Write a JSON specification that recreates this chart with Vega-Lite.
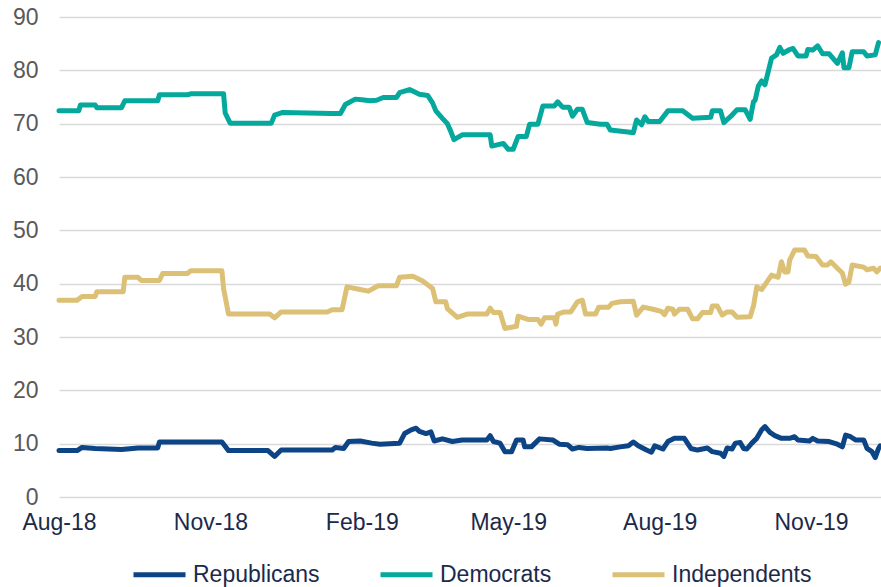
{
  "$schema": "https://vega.github.io/schema/vega-lite/v6.json",
  "width": 822,
  "height": 480,
  "autosize": {"type": "none"},
  "padding": {"left": 59, "top": 17, "right": 0, "bottom": 90},
  "config": {"view": {"stroke": null}, "font": "Liberation Sans"},
  "datasets": {
    "Democrats": [
      {"date":"2018-08-01","value":72.4},{"date":"2018-08-13","value":72.4},{"date":"2018-08-14","value":73.5},{"date":"2018-08-23","value":73.5},{"date":"2018-08-24","value":73.0},{"date":"2018-09-08","value":73.0},{"date":"2018-09-10","value":74.3},{"date":"2018-09-30","value":74.3},{"date":"2018-10-01","value":75.4},{"date":"2018-10-18","value":75.4},{"date":"2018-10-20","value":75.6},{"date":"2018-11-09","value":75.6},{"date":"2018-11-10","value":72.0},{"date":"2018-11-13","value":70.1},{"date":"2018-12-08","value":70.1},{"date":"2018-12-10","value":71.6},{"date":"2018-12-15","value":72.1},{"date":"2019-01-14","value":71.9},{"date":"2019-01-19","value":71.9},{"date":"2019-01-22","value":73.6},{"date":"2019-01-28","value":74.6},{"date":"2019-02-01","value":74.5},{"date":"2019-02-06","value":74.3},{"date":"2019-02-10","value":74.4},{"date":"2019-02-14","value":74.9},{"date":"2019-02-22","value":74.9},{"date":"2019-02-24","value":75.8},{"date":"2019-03-02","value":76.4},{"date":"2019-03-08","value":75.5},{"date":"2019-03-13","value":75.3},{"date":"2019-03-16","value":73.9},{"date":"2019-03-18","value":72.4},{"date":"2019-03-22","value":71.0},{"date":"2019-03-25","value":70.0},{"date":"2019-03-27","value":68.6},{"date":"2019-03-29","value":67.0},{"date":"2019-04-03","value":67.9},{"date":"2019-04-20","value":67.9},{"date":"2019-04-21","value":65.8},{"date":"2019-04-28","value":66.3},{"date":"2019-05-01","value":65.2},{"date":"2019-05-04","value":65.2},{"date":"2019-05-07","value":67.6},{"date":"2019-05-12","value":67.6},{"date":"2019-05-14","value":69.9},{"date":"2019-05-19","value":69.9},{"date":"2019-05-22","value":73.3},{"date":"2019-05-29","value":73.3},{"date":"2019-05-31","value":74.1},{"date":"2019-06-03","value":73.1},{"date":"2019-06-07","value":73.1},{"date":"2019-06-09","value":71.4},{"date":"2019-06-12","value":72.7},{"date":"2019-06-15","value":72.7},{"date":"2019-06-18","value":70.2},{"date":"2019-06-26","value":69.9},{"date":"2019-06-30","value":69.9},{"date":"2019-07-02","value":68.8},{"date":"2019-07-14","value":68.4},{"date":"2019-07-16","value":68.3},{"date":"2019-07-18","value":70.7},{"date":"2019-07-21","value":69.8},{"date":"2019-07-23","value":71.3},{"date":"2019-07-25","value":70.4},{"date":"2019-08-01","value":70.4},{"date":"2019-08-06","value":72.4},{"date":"2019-08-15","value":72.4},{"date":"2019-08-21","value":71.0},{"date":"2019-09-01","value":71.2},{"date":"2019-09-02","value":72.4},{"date":"2019-09-07","value":72.4},{"date":"2019-09-09","value":70.2},{"date":"2019-09-13","value":71.3},{"date":"2019-09-17","value":72.6},{"date":"2019-09-22","value":72.6},{"date":"2019-09-25","value":70.8},{"date":"2019-09-27","value":74.1},{"date":"2019-09-28","value":74.4},{"date":"2019-09-30","value":77.1},{"date":"2019-10-02","value":78.0},{"date":"2019-10-04","value":77.3},{"date":"2019-10-08","value":82.3},{"date":"2019-10-11","value":82.9},{"date":"2019-10-13","value":84.3},{"date":"2019-10-15","value":83.2},{"date":"2019-10-19","value":83.9},{"date":"2019-10-21","value":84.1},{"date":"2019-10-24","value":82.7},{"date":"2019-10-29","value":82.7},{"date":"2019-10-30","value":83.9},{"date":"2019-11-02","value":83.8},{"date":"2019-11-05","value":84.6},{"date":"2019-11-08","value":83.1},{"date":"2019-11-12","value":83.1},{"date":"2019-11-17","value":81.3},{"date":"2019-11-20","value":83.3},{"date":"2019-11-21","value":80.5},{"date":"2019-11-24","value":80.5},{"date":"2019-11-26","value":83.5},{"date":"2019-12-03","value":83.5},{"date":"2019-12-05","value":82.7},{"date":"2019-12-10","value":82.9},{"date":"2019-12-12","value":85.2}
    ],
    "Independents": [
      {"date":"2018-08-01","value":36.9},{"date":"2018-08-12","value":36.9},{"date":"2018-08-15","value":37.6},{"date":"2018-08-23","value":37.6},{"date":"2018-08-24","value":38.5},{"date":"2018-09-09","value":38.5},{"date":"2018-09-10","value":41.2},{"date":"2018-09-18","value":41.2},{"date":"2018-09-20","value":40.6},{"date":"2018-10-01","value":40.6},{"date":"2018-10-03","value":41.9},{"date":"2018-10-18","value":41.9},{"date":"2018-10-20","value":42.4},{"date":"2018-11-08","value":42.4},{"date":"2018-11-09","value":39.1},{"date":"2018-11-12","value":34.3},{"date":"2018-12-07","value":34.3},{"date":"2018-12-10","value":33.6},{"date":"2018-12-14","value":34.7},{"date":"2019-01-11","value":34.7},{"date":"2019-01-14","value":35.1},{"date":"2019-01-20","value":35.1},{"date":"2019-01-23","value":39.4},{"date":"2019-01-31","value":38.9},{"date":"2019-02-05","value":38.6},{"date":"2019-02-11","value":39.6},{"date":"2019-02-22","value":39.6},{"date":"2019-02-24","value":41.2},{"date":"2019-03-04","value":41.4},{"date":"2019-03-10","value":40.5},{"date":"2019-03-16","value":39.1},{"date":"2019-03-18","value":36.6},{"date":"2019-03-24","value":36.6},{"date":"2019-03-25","value":35.3},{"date":"2019-03-31","value":33.7},{"date":"2019-04-06","value":34.3},{"date":"2019-04-18","value":34.3},{"date":"2019-04-20","value":35.4},{"date":"2019-04-22","value":34.6},{"date":"2019-04-26","value":34.6},{"date":"2019-04-29","value":31.6},{"date":"2019-05-06","value":32.0},{"date":"2019-05-07","value":33.9},{"date":"2019-05-13","value":33.3},{"date":"2019-05-19","value":33.3},{"date":"2019-05-21","value":32.4},{"date":"2019-05-23","value":33.6},{"date":"2019-05-29","value":33.6},{"date":"2019-05-30","value":32.4},{"date":"2019-05-31","value":34.3},{"date":"2019-06-04","value":34.7},{"date":"2019-06-08","value":34.7},{"date":"2019-06-12","value":36.6},{"date":"2019-06-15","value":36.9},{"date":"2019-06-17","value":34.3},{"date":"2019-06-23","value":34.3},{"date":"2019-06-25","value":35.6},{"date":"2019-07-01","value":35.6},{"date":"2019-07-03","value":36.3},{"date":"2019-07-08","value":36.6},{"date":"2019-07-16","value":36.7},{"date":"2019-07-18","value":34.1},{"date":"2019-07-22","value":35.6},{"date":"2019-07-28","value":35.2},{"date":"2019-08-02","value":34.8},{"date":"2019-08-04","value":34.2},{"date":"2019-08-06","value":35.4},{"date":"2019-08-09","value":35.2},{"date":"2019-08-10","value":34.3},{"date":"2019-08-13","value":35.2},{"date":"2019-08-18","value":35.2},{"date":"2019-08-21","value":33.4},{"date":"2019-08-24","value":33.4},{"date":"2019-08-27","value":34.6},{"date":"2019-09-01","value":34.6},{"date":"2019-09-02","value":35.8},{"date":"2019-09-05","value":35.8},{"date":"2019-09-08","value":34.1},{"date":"2019-09-11","value":34.7},{"date":"2019-09-14","value":34.7},{"date":"2019-09-17","value":33.7},{"date":"2019-09-25","value":33.8},{"date":"2019-09-27","value":35.8},{"date":"2019-09-29","value":39.4},{"date":"2019-10-02","value":38.9},{"date":"2019-10-06","value":40.7},{"date":"2019-10-08","value":41.6},{"date":"2019-10-12","value":41.2},{"date":"2019-10-14","value":44.1},{"date":"2019-10-16","value":42.2},{"date":"2019-10-18","value":42.2},{"date":"2019-10-19","value":44.4},{"date":"2019-10-22","value":46.3},{"date":"2019-10-28","value":46.3},{"date":"2019-10-30","value":45.2},{"date":"2019-11-04","value":45.1},{"date":"2019-11-08","value":43.5},{"date":"2019-11-11","value":43.5},{"date":"2019-11-13","value":44.1},{"date":"2019-11-17","value":42.9},{"date":"2019-11-20","value":42.0},{"date":"2019-11-22","value":39.9},{"date":"2019-11-24","value":40.3},{"date":"2019-11-26","value":43.5},{"date":"2019-12-03","value":43.1},{"date":"2019-12-05","value":42.6},{"date":"2019-12-09","value":42.9},{"date":"2019-12-11","value":42.2},{"date":"2019-12-13","value":42.9}
    ],
    "Republicans": [
      {"date":"2018-08-01","value":8.7},{"date":"2018-08-12","value":8.7},{"date":"2018-08-15","value":9.3},{"date":"2018-08-23","value":9.1},{"date":"2018-09-08","value":8.9},{"date":"2018-09-18","value":9.2},{"date":"2018-09-30","value":9.2},{"date":"2018-10-01","value":10.3},{"date":"2018-11-08","value":10.3},{"date":"2018-11-12","value":8.7},{"date":"2018-12-06","value":8.7},{"date":"2018-12-10","value":7.6},{"date":"2018-12-14","value":8.8},{"date":"2019-01-14","value":8.8},{"date":"2019-01-16","value":9.3},{"date":"2019-01-21","value":9.1},{"date":"2019-01-24","value":10.4},{"date":"2019-01-31","value":10.5},{"date":"2019-02-07","value":10.1},{"date":"2019-02-12","value":9.9},{"date":"2019-02-24","value":10.1},{"date":"2019-02-27","value":11.9},{"date":"2019-03-03","value":12.6},{"date":"2019-03-06","value":12.9},{"date":"2019-03-08","value":12.3},{"date":"2019-03-12","value":11.9},{"date":"2019-03-15","value":12.2},{"date":"2019-03-17","value":10.5},{"date":"2019-03-22","value":10.9},{"date":"2019-03-28","value":10.4},{"date":"2019-04-03","value":10.7},{"date":"2019-04-18","value":10.7},{"date":"2019-04-20","value":11.5},{"date":"2019-04-22","value":10.4},{"date":"2019-04-26","value":10.1},{"date":"2019-04-29","value":8.5},{"date":"2019-05-03","value":8.5},{"date":"2019-05-06","value":10.7},{"date":"2019-05-10","value":10.7},{"date":"2019-05-11","value":9.4},{"date":"2019-05-15","value":9.4},{"date":"2019-05-20","value":10.9},{"date":"2019-05-28","value":10.7},{"date":"2019-06-01","value":9.9},{"date":"2019-06-06","value":9.8},{"date":"2019-06-09","value":9.0},{"date":"2019-06-13","value":9.3},{"date":"2019-06-18","value":9.1},{"date":"2019-06-30","value":9.2},{"date":"2019-07-02","value":9.1},{"date":"2019-07-08","value":9.4},{"date":"2019-07-13","value":9.6},{"date":"2019-07-16","value":10.3},{"date":"2019-07-19","value":9.6},{"date":"2019-07-24","value":8.8},{"date":"2019-07-27","value":8.4},{"date":"2019-07-29","value":9.6},{"date":"2019-08-03","value":9.0},{"date":"2019-08-06","value":10.4},{"date":"2019-08-10","value":11.0},{"date":"2019-08-16","value":11.0},{"date":"2019-08-20","value":9.1},{"date":"2019-08-24","value":8.8},{"date":"2019-08-30","value":9.2},{"date":"2019-09-02","value":8.5},{"date":"2019-09-07","value":8.2},{"date":"2019-09-09","value":7.6},{"date":"2019-09-11","value":9.2},{"date":"2019-09-14","value":9.0},{"date":"2019-09-16","value":10.1},{"date":"2019-09-19","value":10.2},{"date":"2019-09-21","value":9.1},{"date":"2019-09-23","value":9.0},{"date":"2019-09-26","value":10.1},{"date":"2019-09-29","value":11.0},{"date":"2019-10-02","value":12.6},{"date":"2019-10-04","value":13.2},{"date":"2019-10-07","value":12.1},{"date":"2019-10-10","value":11.5},{"date":"2019-10-14","value":11.0},{"date":"2019-10-19","value":11.0},{"date":"2019-10-22","value":11.3},{"date":"2019-10-24","value":10.7},{"date":"2019-10-31","value":10.5},{"date":"2019-11-02","value":11.0},{"date":"2019-11-05","value":10.5},{"date":"2019-11-12","value":10.4},{"date":"2019-11-17","value":9.9},{"date":"2019-11-20","value":9.4},{"date":"2019-11-22","value":11.6},{"date":"2019-11-25","value":11.3},{"date":"2019-11-28","value":10.7},{"date":"2019-12-03","value":10.7},{"date":"2019-12-05","value":9.1},{"date":"2019-12-08","value":8.5},{"date":"2019-12-10","value":7.4},{"date":"2019-12-12","value":9.1},{"date":"2019-12-13","value":9.6}
    ]
  },
  "layer": [
    {"data": {"name": "Republicans"}, "transform": [{"calculate": "'Republicans'", "as": "party"}], "mark": {"type": "line", "strokeWidth": 5, "strokeJoin": "round", "strokeCap": "round"}, "encoding": {}},
    {"data": {"name": "Democrats"}, "transform": [{"calculate": "'Democrats'", "as": "party"}], "mark": {"type": "line", "strokeWidth": 5, "strokeJoin": "round", "strokeCap": "round"}, "encoding": {}},
    {"data": {"name": "Independents"}, "transform": [{"calculate": "'Independents'", "as": "party"}], "mark": {"type": "line", "strokeWidth": 5, "strokeJoin": "round", "strokeCap": "round"}, "encoding": {}}
  ],
  "encoding": {
    "x": {
      "field": "date", "type": "temporal",
      "scale": {"type": "utc", "domain": [{"year": 2018, "month": 8, "date": 1, "utc": true}, {"year": 2019, "month": 12, "date": 13, "hours": 12, "utc": true}]},
      "axis": {
        "title": null,
        "values": [{"year": 2018, "month": 8, "date": 1, "utc": true}, {"year": 2018, "month": 11, "date": 1, "utc": true}, {"year": 2019, "month": 2, "date": 1, "utc": true}, {"year": 2019, "month": 5, "date": 1, "utc": true}, {"year": 2019, "month": 8, "date": 1, "utc": true}, {"year": 2019, "month": 11, "date": 1, "utc": true}],
        "labelExpr": "utcFormat(datum.value, '%b-%y')",
        "grid": false, "domain": false, "ticks": false, "tickSize": 0,
        "labelPadding": 14, "labelFontSize": 23, "labelColor": "#1B2A4A", "labelFont": "Liberation Sans",
        "labelFlush": false, "labelOverlap": false, "labelBound": false
      }
    },
    "y": {
      "field": "value", "type": "quantitative",
      "scale": {"domain": [0, 90], "nice": false},
      "axis": {
        "title": null, "values": [0, 10, 20, 30, 40, 50, 60, 70, 80, 90],
        "domain": false, "ticks": false, "tickSize": 0, "labelPadding": 21,
        "labelFontSize": 23, "labelColor": "#595959", "labelFont": "Liberation Sans",
        "gridColor": "#D9D9D9", "gridWidth": 1.5
      }
    },
    "color": {
      "field": "party", "type": "nominal",
      "scale": {"domain": ["Republicans", "Democrats", "Independents"], "range": ["#0C4485", "#05A89C", "#DBC076"]},
      "legend": {
        "title": null, "orient": "none", "legendX": 72, "legendY": 529, "direction": "horizontal",
        "symbolType": "stroke", "symbolSize": 2704, "symbolStrokeWidth": 5,
        "labelFontSize": 23, "labelColor": "#1B2A4A", "labelFont": "Liberation Sans",
        "labelOffset": 5, "columnPadding": 50
      }
    }
  }
}
